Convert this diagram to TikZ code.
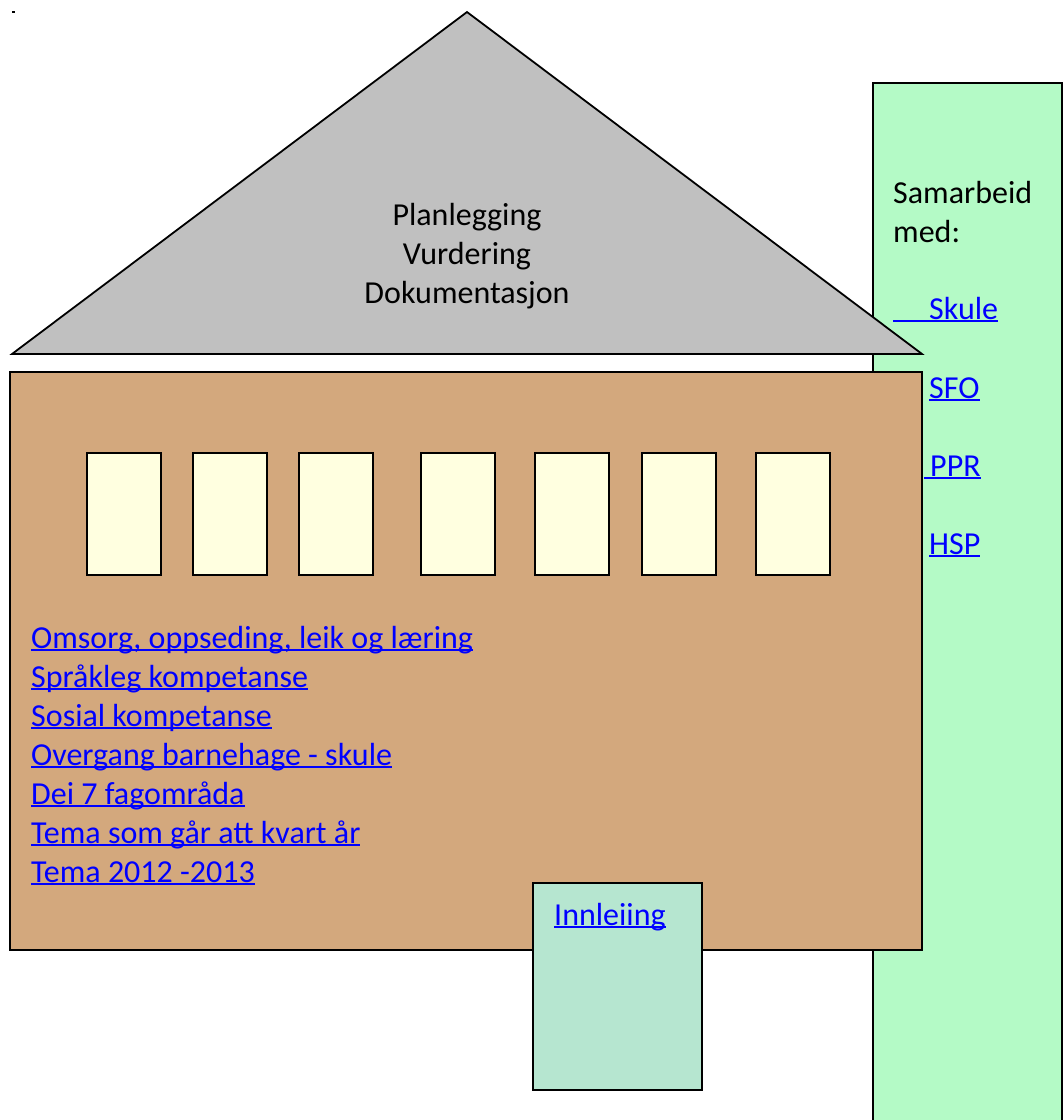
\documentclass[tikz,border=0pt]{standalone}
\usepackage{fontspec}
\setmainfont{Carlito}
\definecolor{roofgray}{RGB}{192,192,192}
\definecolor{pillargreen}{RGB}{180,250,198}
\definecolor{walltan}{RGB}{211,168,125}
\definecolor{winyellow}{RGB}{255,255,224}
\definecolor{doorgreen}{RGB}{182,230,208}
\definecolor{linkblue}{RGB}{0,0,255}
\newsavebox{\lnkbox}
\newcommand{\lnk}[1]{\sbox{\lnkbox}{#1}\rlap{\rule[-0.1em]{\wd\lnkbox}{0.06em}}\usebox{\lnkbox}}
\tikzset{
  shape line/.style={draw=black, line width=1.8pt, line join=miter},
  winbox/.style={shape line, fill=winyellow, rectangle, minimum width=74pt, minimum height=122pt, inner sep=0pt, anchor=north west},
  linktext/.style={text=linkblue, anchor=base west, inner sep=0pt, font=\fontsize{32}{39}\selectfont},
  plaintext/.style={text=black, inner sep=0pt, font=\fontsize{32}{39}\selectfont},
}
\begin{document}
\begin{tikzpicture}[x=1pt,y=-1pt]
\useasboundingbox (0,0) rectangle (1064,1120);
\clip (0,0) rectangle (1064,1120);
% stray dot
\fill[black] (12,11) rectangle (15,12.5);
% pillar
\draw[shape line, fill=pillargreen] (873,1130) -- (873,83) -- (1062,83) -- (1062,1130);
% roof
\draw[shape line, fill=roofgray] (467,12) -- (922,354) -- (12,354) -- cycle;
\node[plaintext, anchor=base] (r1) at (467,225) {Planlegging};
\node[plaintext, anchor=base] (r2) at (467,264) {Vurdering};
\node[plaintext, anchor=base] (r3) at (467,303) {Dokumentasjon};
% wall
\draw[shape line, fill=walltan] (10,372) rectangle (922,950);
% windows
\node[winbox] (w1) at (86,452) {};
\node[winbox] (w2) at (192,452) {};
\node[winbox] (w3) at (298,452) {};
\node[winbox] (w4) at (420,452) {};
\node[winbox] (w5) at (534,452) {};
\node[winbox] (w6) at (641,452) {};
\node[winbox] (w7) at (755,452) {};
% list of links
\node[linktext] (l1) at (31,648) {\lnk{Omsorg, oppseding, leik og læring}};
\node[linktext] (l2) at (31,687) {\lnk{Språkleg kompetanse}};
\node[linktext] (l3) at (31,726) {\lnk{Sosial kompetanse}};
\node[linktext] (l4) at (31,765) {\lnk{Overgang barnehage - skule}};
\node[linktext] (l5) at (31,804) {\lnk{Dei 7 fagområda}};
\node[linktext] (l6) at (31,843) {\lnk{Tema som går att kvart år}};
\node[linktext] (l7) at (31,882) {\lnk{Tema 2012 -2013}};
% door
\draw[shape line, fill=doorgreen] (533,883) rectangle (702,1090);
\node[linktext] (door) at (554,925) {\lnk{Innleiing}};
% pillar texts
\node[plaintext, anchor=base west] (p1) at (893,203) {Samarbeid};
\node[plaintext, anchor=base west] (p2) at (893,242) {med:};
\node[linktext] (p3) at (893,319) {\lnk{\hspace{36pt}Skule}};
\node[linktext] (p4) at (929,398) {\lnk{SFO}};
\node[linktext] (p5) at (924,476) {\lnk{\hspace{6pt}PPR}};
\node[linktext] (p6) at (929,554) {\lnk{HSP}};
\end{tikzpicture}
\end{document}
